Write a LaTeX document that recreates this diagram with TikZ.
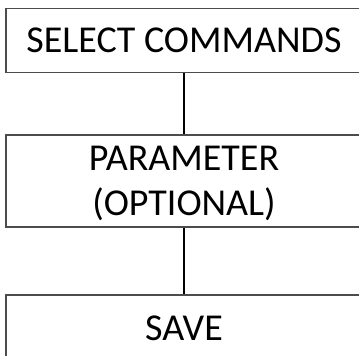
\documentclass[tikz,border=0pt]{standalone}
\usepackage{fontspec}
\setmainfont{Carlito}
\begin{document}
\begin{tikzpicture}[x=1pt, y=1pt,
		box/.style={draw=black!70, line width=1.2pt, minimum width=356pt, inner sep=0pt,
			align=center, text depth=0pt, font=\fontsize{38}{45}\selectfont},
		link/.style={line width=1.4pt, black}]
			% picture frame (boxes run off the right and bottom)
			\useasboundingbox (0,0) rectangle (359,-356);
			\clip (0,0) rectangle (359,-356);
			
			\node[box, minimum height=64pt] (select) at (184,-40.5) {SELECT COMMANDS};
			\node[box, minimum height=92pt] (param) at (184,-181) {PARAMETER\\(OPTIONAL)};
			\node[box, minimum height=67pt] (save) at (184,-328.5) {SAVE};
			
			% connectors
			\draw[link] (select) -- (param);
			\draw[link] (param) -- (save);
		\end{tikzpicture}
\end{document}
